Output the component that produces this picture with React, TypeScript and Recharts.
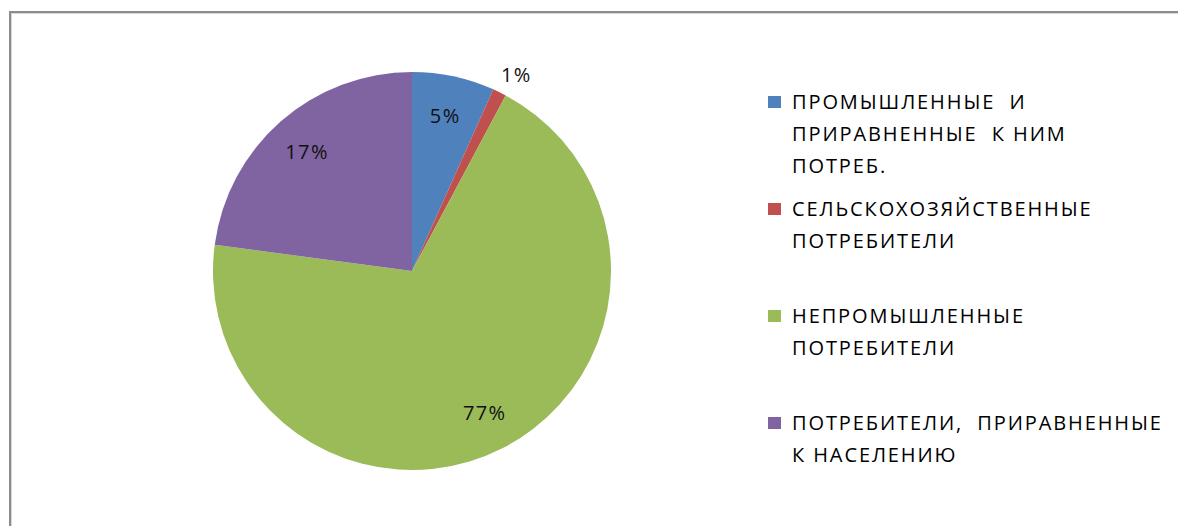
import React from 'react';
import { PieChart, Pie, Cell, Legend } from 'recharts';

// slice shares (angles), labels as printed on it
const categories = [
  'ПРОМЫШЛЕННЫЕ  И\nПРИРАВНЕННЫЕ  К НИМ\nПОТРЕБ.',
  'СЕЛЬСКОХОЗЯЙСТВЕННЫЕ\nПОТРЕБИТЕЛИ',
  'НЕПРОМЫШЛЕННЫЕ\nПОТРЕБИТЕЛИ',
  'ПОТРЕБИТЕЛИ,  ПРИРАВНЕННЫЕ\nК НАСЕЛЕНИЮ',
];
const shares = [6.7, 1.1, 69.3, 22.9];
const percentLabels = ['5%', '1%', '77%', '17%'];
const colors = ['#4F81BD', '#C0504D', '#9BBB59', '#8064A2'];

const data = categories.map((name, i) => ({
  name,
  value: shares[i],
  label: percentLabels[i],
}));

const FONT = '"Open Sans", "DejaVu Sans", sans-serif';
const RAD = Math.PI / 180;

function renderLabel(props: any) {
  const { cx, cy, midAngle, outerRadius, index, value } = props;
  const outside = value < 2;
  const r = outside ? outerRadius * 1.1 : outerRadius * 0.8;
  const x = cx + r * Math.cos(-midAngle * RAD) + (outside ? 8 : 0);
  const y = cy + r * Math.sin(-midAngle * RAD);
  return (
    <text
      x={x}
      y={y}
      fill="#111"
      fontSize={20}
      fontFamily={FONT}
      letterSpacing={1.4}
      textAnchor="middle"
      dominantBaseline="central"
    >
      {percentLabels[index]}
    </text>
  );
}

function LegendContent() {
  return (
    <div
      style={{
        fontFamily: FONT,
        fontSize: 20,
        color: '#000',
        letterSpacing: 1.9,
      }}
    >
      {data.map((d, i) => (
        <div key={i} style={{ position: 'relative', height: 107 }}>
          <div
            style={{
              position: 'absolute',
              left: 0,
              top: 10,
              width: 13,
              height: 12,
              background: colors[i],
            }}
          />
          <div
            style={{
              position: 'absolute',
              left: 24,
              top: 0,
              lineHeight: '32px',
              whiteSpace: 'pre',
            }}
          >
            {d.name}
          </div>
        </div>
      ))}
    </div>
  );
}

export default function App() {
  return (
    <div
      style={{
        position: 'fixed',
        left: 0,
        top: 0,
        width: 1178,
        height: 526,
        overflow: 'hidden',
        background: '#fff',
      }}
    >
      <div
        style={{
          position: 'absolute',
          left: 9,
          top: 11,
          width: 1400,
          height: 800,
          borderLeft: '2px solid #8c8c8c',
          borderTop: '2px solid #8c8c8c',
          boxShadow: 'inset 1px 1px 0 #d6d6d6',
        }}
      />
      <div style={{ position: 'absolute', left: 0, top: 0 }}>
        <PieChart width={1178} height={526} margin={{ top: 0, right: 0, bottom: 0, left: 0 }}>
          <Pie
            data={data}
            dataKey="value"
            nameKey="name"
            cx={412}
            cy={271}
            outerRadius={199}
            startAngle={90}
            endAngle={-270}
            stroke="none"
            label={renderLabel}
            labelLine={false}
            isAnimationActive={false}
          >
            {data.map((d, i) => (
              <Cell key={i} fill={colors[i]} />
            ))}
          </Pie>
          <Legend
            content={<LegendContent />}
            wrapperStyle={{ left: 768, top: 86, width: 400, height: 430 }}
          />
        </PieChart>
      </div>
    </div>
  );
}
